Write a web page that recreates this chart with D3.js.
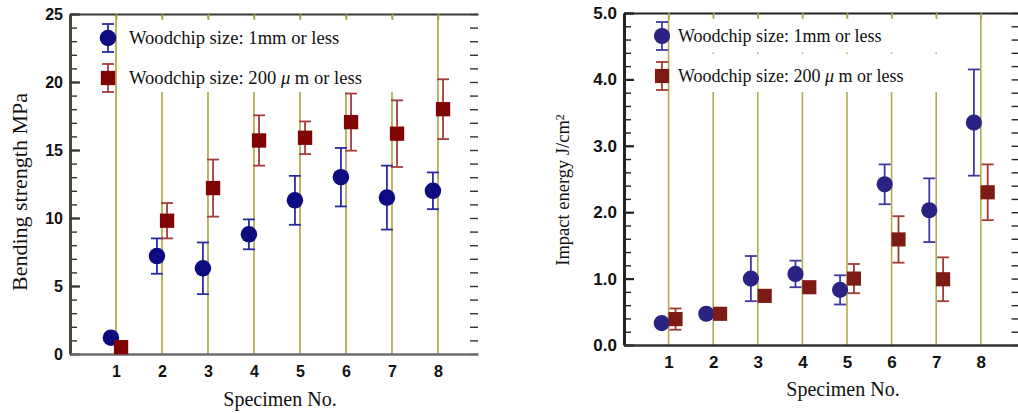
<!DOCTYPE html>
<html>
<head>
<meta charset="utf-8">
<title>Woodchip size comparison</title>
<script src="https://cdn.jsdelivr.net/npm/d3@7"></script>
<style>
body { margin: 0; background: #fff; }
.serif { font-family: "Liberation Serif", "Times New Roman", serif; }
.ticklab text { font-family: "Liberation Sans", Arial, sans-serif; font-weight: bold; fill: #111; }
</style>
</head>
<body>
<script>
// specimen numbers on the x axis
var specimens = [1, 2, 3, 4, 5, 6, 7, 8];

// bending strength, MPa (mean and +/- error)
var bending1mm     = [1.2, 7.2, 6.3, 8.8, 11.3, 13.0, 11.5, 12.0];
var bending1mmErr  = [0.3, 1.3, 1.9, 1.1, 1.8, 2.15, 2.35, 1.35];
var bending200     = [0.5, 9.8, 12.2, 15.7, 15.9, 17.05, 16.2, 18.0];
var bending200Err  = [0.2, 1.3, 2.1, 1.85, 1.2, 2.1, 2.45, 2.2];

// impact energy, J/cm2
var impact1mm      = [0.33, 0.47, 1.0, 1.07, 0.83, 2.42, 2.03, 3.35];
var impact1mmErr   = [0.05, 0.05, 0.34, 0.2, 0.22, 0.3, 0.48, 0.8];
var impact200      = [0.39, 0.47, 0.74, 0.87, 1.0, 1.59, 0.99, 2.3];
var impact200Err   = [0.16, 0.05, 0.05, 0.05, 0.22, 0.35, 0.33, 0.42];

var bendingTicks = [0, 5, 10, 15, 20, 25];
var impactTicks  = [0, 1, 2, 3, 4, 5];

var svg = d3.select("body").append("svg")
    .attr("width", 1018)
    .attr("height", 413);

function drawPanel(p) {
    var x = d3.scaleLinear().domain([0, 8.87]).range([p.left, p.right]);
    var y = d3.scaleLinear().domain([0, p.yMax]).range([p.bottom, p.top]);
    var g = svg.append("g");

    // vertical lines at every specimen
    g.selectAll(".vline")
        .data(specimens)
        .enter().append("line")
        .attr("x1", d => x(d)).attr("x2", d => x(d))
        .attr("y1", p.top).attr("y2", p.bottom)
        .style("stroke", p.gridColor)
        .style("stroke-width", 1.6);

    // legend background breaks the lines
    p.legendBoxes.forEach(function(b) {
        g.append("rect")
            .attr("x", x(1) + 7).attr("width", x(8) - x(1) - 14)
            .attr("y", b[0]).attr("height", b[1] - b[0])
            .style("fill", "#fff");
    });

    // minor y ticks, left and right
    g.append("g")
        .attr("transform", "translate(" + p.left + ",0)")
        .call(d3.axisLeft(y).tickValues(d3.range(0, p.yMax + 1e-9, p.minor)).tickSize(-7).tickFormat(""))
        .call(s => s.select(".domain").remove())
        .selectAll("line").style("stroke", p.tickColor).style("stroke-width", 1.4);
    g.append("g")
        .attr("transform", "translate(" + p.right + ",0)")
        .call(d3.axisRight(y).tickValues(d3.range(0, p.yMax + 1e-9, p.minor)).tickSize(-8).tickFormat(""))
        .call(s => s.select(".domain").remove())
        .selectAll("line").style("stroke", p.tickColor).style("stroke-width", 1.4);

    // major y ticks with labels
    var yAx = g.append("g")
        .attr("class", "ticklab")
        .attr("transform", "translate(" + p.left + ",0)")
        .call(d3.axisLeft(y).tickValues(p.yTicks).tickSize(-10).tickSizeOuter(0).tickPadding(7).tickFormat(p.yFormat));
    yAx.selectAll("line").style("stroke", p.tickColor).style("stroke-width", 2.2);
    yAx.select(".domain").style("stroke", p.leftAxisColor).style("stroke-width", 3);
    yAx.selectAll("text").style("font-size", p.tickFont + "px");

    // top ticks
    var top = g.append("g")
        .attr("transform", "translate(0," + p.top + ")")
        .call(d3.axisTop(x).tickValues(specimens).tickSize(-6).tickSizeOuter(0).tickFormat(""));
    top.select(".domain").style("stroke", p.topColor).style("stroke-width", 2);
    top.selectAll("line").style("stroke", p.gridColor).style("stroke-width", 1.6);

    // bottom axis
    var bot = g.append("g")
        .attr("class", "ticklab")
        .attr("transform", "translate(0," + p.bottom + ")")
        .call(d3.axisBottom(x).tickValues(specimens).tickSize(0).tickSizeOuter(0).tickPadding(p.xPad));
    bot.select(".domain").style("stroke", p.bottomColor).style("stroke-width", 2.5);
    bot.selectAll("text").style("font-size", p.tickFont + "px");

    // series: error bars and markers
    p.series.forEach(function(s) {
        var pts = specimens.map(function(d, i) {
            return {x: d + s.offset, v: s.values[i], e: s.errors[i]};
        });
        var eb = g.append("g").style("stroke", s.errColor).style("stroke-width", 1.8).style("fill", "none");
        pts.forEach(function(d) {
            eb.append("line").attr("x1", x(d.x)).attr("x2", x(d.x)).attr("y1", y(d.v - d.e)).attr("y2", y(d.v + d.e));
            eb.append("line").attr("x1", x(d.x) - 6).attr("x2", x(d.x) + 6).attr("y1", y(d.v + d.e)).attr("y2", y(d.v + d.e));
            eb.append("line").attr("x1", x(d.x) - 6).attr("x2", x(d.x) + 6).attr("y1", y(d.v - d.e)).attr("y2", y(d.v - d.e));
        });
        g.selectAll(null)
            .data(pts)
            .enter().append("path")
            .attr("transform", d => "translate(" + x(d.x) + "," + y(d.v) + ")")
            .attr("d", d3.symbol().type(s.shape).size(s.size))
            .style("fill", s.color);
    });

    // legend
    p.series.forEach(function(s, i) {
        var ly = p.legendY[i];
        var lg = g.append("g");
        lg.append("line").attr("x1", p.legendX).attr("x2", p.legendX).attr("y1", ly - 14).attr("y2", ly + 14)
            .style("stroke", s.errColor).style("stroke-width", 1.8);
        lg.append("line").attr("x1", p.legendX - 6).attr("x2", p.legendX + 6).attr("y1", ly - 14).attr("y2", ly - 14)
            .style("stroke", s.errColor).style("stroke-width", 1.8);
        lg.append("line").attr("x1", p.legendX - 6).attr("x2", p.legendX + 6).attr("y1", ly + 14).attr("y2", ly + 14)
            .style("stroke", s.errColor).style("stroke-width", 1.8);
        lg.append("path")
            .attr("transform", "translate(" + p.legendX + "," + ly + ")")
            .attr("d", d3.symbol().type(s.shape).size(s.size))
            .style("fill", s.color);
        var t = lg.append("text")
            .attr("class", "serif")
            .attr("x", p.legendX + p.legendGap)
            .attr("y", ly + 6)
            .style("font-size", p.legendFont + "px")
            .style("fill", "#111");
        s.label.forEach(function(part) {
            t.append("tspan").style("font-style", part.italic ? "italic" : "normal").text(part.text);
        });
    });

    // axis titles
    var yt = g.append("text")
        .attr("class", "serif")
        .attr("transform", "translate(" + p.yTitleX + "," + p.yTitleY + ") rotate(-90)")
        .attr("text-anchor", "middle")
        .style("font-size", p.yTitleFont + "px")
        .style("fill", "#111");
    p.yTitle.forEach(function(part) {
        var ts = yt.append("tspan").text(part.text);
        if (part.sup) ts.attr("dy", "-0.45em").style("font-size", "0.65em");
    });

    g.append("text")
        .attr("class", "serif")
        .attr("x", p.xTitleX).attr("y", p.xTitleY)
        .attr("text-anchor", "middle")
        .style("font-size", "20px")
        .style("fill", "#111")
        .text("Specimen No.");
}

var label1mm = [{text: "Woodchip size: 1mm or less"}];
var label200 = [{text: "Woodchip size: 200 "}, {text: "\u03bc", italic: true}, {text: " m or less"}];

drawPanel({
    left: 70, right: 478, top: 14, bottom: 354, yMax: 25, minor: 1,
    yTicks: bendingTicks, yFormat: d3.format("d"), tickFont: 16, xPad: 12,
    gridColor: "#aaa43e", tickColor: "#333", leftAxisColor: "#4a4a3c", topColor: "#3a3a3a", bottomColor: "#6e6e6e",
    legendBoxes: [[19, 92]], legendX: 108, legendY: [38, 78], legendGap: 21, legendFont: 18.6,
    yTitle: [{text: "Bending strength MPa"}], yTitleX: 27, yTitleY: 192, yTitleFont: 22,
    xTitleX: 280, xTitleY: 406,
    series: [
        {values: bending1mm, errors: bending1mmErr, offset: -0.11, shape: d3.symbolCircle, size: 215,
         color: "#0c0c80", errColor: "#2b2ba0", label: label1mm},
        {values: bending200, errors: bending200Err, offset: 0.11, shape: d3.symbolSquare, size: 205,
         color: "#800404", errColor: "#a63b3b", label: label200}
    ]
});

drawPanel({
    left: 624, right: 1019.6, top: 13, bottom: 345, yMax: 5, minor: 0.2,
    yTicks: impactTicks, yFormat: d3.format(".1f"), tickFont: 17, xPad: 11,
    gridColor: "#b3ab52", tickColor: "#222", leftAxisColor: "#222", topColor: "#222", bottomColor: "#333",
    legendBoxes: [[18, 52.5], [54, 92]], legendX: 662, legendY: [36, 76], legendGap: 16, legendFont: 18,
    yTitle: [{text: "Impact energy J/cm"}, {text: "2", sup: true}], yTitleX: 569, yTitleY: 190, yTitleFont: 18.5,
    xTitleX: 843, xTitleY: 396,
    series: [
        {values: impact1mm, errors: impact1mmErr, offset: -0.155, shape: d3.symbolCircle, size: 205,
         color: "#2b2383", errColor: "#3f38a3", label: label1mm},
        {values: impact200, errors: impact200Err, offset: 0.155, shape: d3.symbolSquare, size: 200,
         color: "#7c1b13", errColor: "#9e3c34", label: label200}
    ]
});
</script>
</body>
</html>
